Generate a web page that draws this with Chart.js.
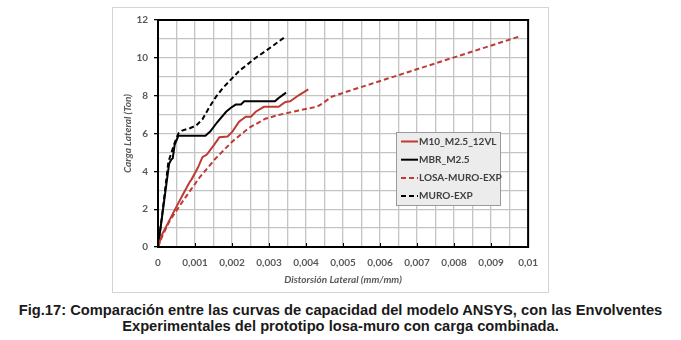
<!DOCTYPE html>
<html>
<head>
<meta charset="utf-8">
<script src="https://cdn.jsdelivr.net/npm/chart.js@4.4.1/dist/chart.umd.min.js"></script>
<style>
  html, body { margin: 0; padding: 0; background: #fff; }
  body { width: 681px; height: 340px; position: relative; overflow: hidden; }
  #chartBox {
    position: absolute; left: 112px; top: 7px;
    width: 435px; height: 284px;
    border: 1px solid #d4d4d4;
  }
  #caption {
    position: absolute; left: 0; top: 302px; width: 681px;
    text-align: center; color: #1a1a1a;
    font-family: "Liberation Sans Narrow", "Liberation Sans", Arial, sans-serif;
    font-weight: bold; font-size: 14.7px; line-height: 16px;
  }
</style>
</head>
<body>
<div id="chartBox"><canvas id="capChart" width="435" height="284"></canvas></div>
<div id="caption">Fig.17: Comparación entre las curvas de capacidad del modelo ANSYS, con las Envolventes<br>Experimentales del prototipo losa-muro con carga combinada.</div>
<script>
// series names
const seriesNames = ["M10_M2.5_12VL", "MBR_M2.5", "LOSA-MURO-EXP", "MURO-EXP"];

// M10_M2.5_12VL (red solid)
const m10X = [0, 0.00012, 0.00028, 0.00045, 0.00068, 0.00086, 0.0009, 0.00108, 0.0012, 0.00132, 0.00152, 0.00166, 0.00188, 0.00201, 0.00219, 0.00237, 0.00251, 0.00264, 0.00286, 0.00326, 0.00344, 0.00357, 0.0038, 0.00406];
const m10Y = [0, 0.7, 1.3, 1.95, 2.8, 3.45, 3.55, 4.2, 4.75, 4.89, 5.41, 5.8, 5.84, 6.1, 6.62, 6.89, 6.89, 7.15, 7.41, 7.41, 7.67, 7.7, 8.02, 8.33];

// MBR_M2.5 (black solid)
const mbrX = [0, 0.0003, 0.00035, 0.0004, 0.00045, 0.00055, 0.00128, 0.00141, 0.00161, 0.00184, 0.00197, 0.0021, 0.00224, 0.00233, 0.00316, 0.00326, 0.00346];
const mbrY = [0, 4.4, 4.6, 4.7, 5.4, 5.88, 5.88, 6.1, 6.62, 7.15, 7.36, 7.53, 7.53, 7.7, 7.7, 7.88, 8.16];

// LOSA-MURO-EXP (red dashed)
const losaX = [0, 0.00012, 0.00032, 0.00068, 0.00112, 0.00157, 0.00201, 0.00246, 0.0029, 0.00326, 0.0038, 0.0043, 0.00445, 0.0047, 0.00513, 0.0098];
const losaY = [0, 0.6, 1.4, 2.45, 3.67, 4.71, 5.58, 6.3, 6.78, 6.98, 7.22, 7.42, 7.6, 7.95, 8.23, 11.15];

// MURO-EXP (black dashed)
const muroX = [0, 0.0001, 0.00028, 0.00045, 0.00055, 0.00065, 0.00086, 0.00103, 0.0012, 0.00139, 0.00157, 0.00175, 0.00219, 0.00264, 0.00308, 0.0034];
const muroY = [0, 1.5, 4.5, 5.5, 6.0, 6.15, 6.28, 6.42, 6.75, 7.4, 7.95, 8.4, 9.3, 10.0, 10.6, 11.06];

// axis ticks
const xMax = 0.01, xStep = 0.0005, xLabelStep = 0.001;
const yMax = 12, yStep = 1, yLabelStep = 2;

const RED = "#be3b33";
const BLACK = "#000000";
const TICK_COLOR = "#595959";
const GRID_COLOR = "#c4c4c4";
const FONT = "Lato, 'Open Sans', sans-serif";

function pts(xs, ys) {
  return xs.map((x, i) => ({ x: x, y: ys[i] }));
}

function isMajor(v, step) {
  const r = v / step;
  return Math.abs(r - Math.round(r)) < 1e-6;
}

// plot frame, inner x tick marks and in-plot legend
const framePlugin = {
  id: "frameAndLegend",
  afterDraw(chart) {
    const { ctx, chartArea: a } = chart;
    const xs = chart.scales.x;
    ctx.save();
    // inner ticks on x axis
    ctx.strokeStyle = "#000";
    ctx.lineWidth = 1;
    for (let v = xLabelStep; v < xMax - 1e-9; v += xLabelStep) {
      const px = Math.round(xs.getPixelForValue(v)) + 0.5;
      ctx.beginPath();
      ctx.moveTo(px, a.bottom);
      ctx.lineTo(px, a.bottom - 4);
      ctx.stroke();
    }
    // frame
    ctx.lineWidth = 2;
    ctx.strokeRect(a.left, a.top, a.right - a.left, a.bottom - a.top);

    // legend box
    const lx = a.left + 238, ly = a.top + 112, lw = 104, lh = 73;
    ctx.fillStyle = "#ececec";
    ctx.fillRect(lx, ly, lw, lh);
    ctx.strokeStyle = "#9a9a9a";
    ctx.lineWidth = 1;
    ctx.strokeRect(lx + 0.5, ly + 0.5, lw, lh);
    ctx.font = "bold 10px " + FONT;
    ctx.textBaseline = "middle";
    chart.data.datasets.forEach((ds, i) => {
      const cy = ly + 9.5 + i * 18.2;
      ctx.strokeStyle = ds.borderColor;
      ctx.lineWidth = 2;
      ctx.setLineDash(ds.borderDash || []);
      ctx.beginPath();
      ctx.moveTo(lx + 5, cy);
      ctx.lineTo(lx + 22, cy);
      ctx.stroke();
      ctx.setLineDash([]);
      ctx.fillStyle = "#404040";
      ctx.fillText(ds.label, lx + 23, cy);
    });
    ctx.restore();
  },
};

const ctx = document.getElementById("capChart").getContext("2d");

new Chart(ctx, {
  type: "scatter",
  data: {
    datasets: [
      { label: seriesNames[0], data: pts(m10X, m10Y), borderColor: RED, borderWidth: 2 },
      { label: seriesNames[1], data: pts(mbrX, mbrY), borderColor: BLACK, borderWidth: 2 },
      { label: seriesNames[2], data: pts(losaX, losaY), borderColor: RED, borderWidth: 2, borderDash: [5, 3] },
      { label: seriesNames[3], data: pts(muroX, muroY), borderColor: BLACK, borderWidth: 2, borderDash: [5, 3] },
    ].map((d) => Object.assign(d, { showLine: true, pointRadius: 0, tension: 0, fill: false })),
  },
  options: {
    responsive: false,
    animation: false,
    events: [],
    layout: { padding: { top: 9, right: 16, left: 0, bottom: 0 } },
    plugins: {
      legend: { display: false },
      tooltip: { enabled: false },
    },
    scales: {
      x: {
        type: "linear",
        min: 0,
        max: xMax,
        afterFit: (s) => { s.height = 45; },
        grid: { display: true, color: GRID_COLOR, lineWidth: 1.3, drawTicks: false },
        border: { display: false },
        ticks: {
          stepSize: xStep,
          autoSkip: false,
          maxRotation: 0,
          padding: 10,
          color: TICK_COLOR,
          font: { family: FONT, size: 10, weight: "bold" },
          callback: (v) => (isMajor(v, xLabelStep) ? String(Math.round(v * 1000) / 1000).replace(".", ",") : ""),
        },
        title: {
          display: true,
          text: "Distorsión Lateral (mm/mm)",
          color: TICK_COLOR,
          font: { family: FONT, size: 10, weight: "bold", style: "italic" },
          padding: { top: 0, bottom: 6 },
        },
      },
      y: {
        type: "linear",
        min: 0,
        max: yMax,
        afterFit: (s) => { s.width = 45; },
        grid: {
          color: GRID_COLOR,
          lineWidth: 1.3,
          drawTicks: true,
          tickLength: 4,
          tickColor: (c) => (c.tick && isMajor(c.tick.value, yLabelStep) ? "#000" : "rgba(0,0,0,0)"),
        },
        border: { display: false },
        ticks: {
          stepSize: yStep,
          autoSkip: false,
          padding: 6,
          color: TICK_COLOR,
          font: { family: FONT, size: 10, weight: "bold" },
          callback: (v) => (isMajor(v, yLabelStep) ? String(v) : ""),
        },
        title: {
          display: true,
          text: "Carga Lateral (Ton)",
          color: TICK_COLOR,
          font: { family: FONT, size: 10, weight: "bold", style: "italic" },
          padding: { top: 9, bottom: 0 },
        },
      },
    },
  },
  plugins: [framePlugin],
});
</script>
</body>
</html>
